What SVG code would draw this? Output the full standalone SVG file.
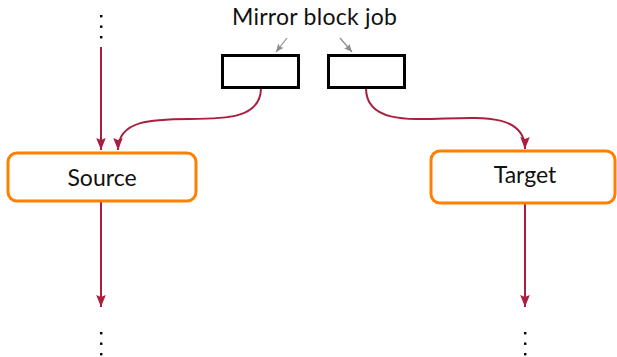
<svg xmlns="http://www.w3.org/2000/svg" width="617" height="357" viewBox="0 0 617 357">
  <style>
    .label { font-family: Lato, "DejaVu Sans", sans-serif; font-size: 23px; fill: #111; text-anchor: middle; }
    .node { fill: #fff; stroke: #ff8000; stroke-width: 3; }
    .job { fill: #fff; stroke: #000; stroke-width: 3; }
    .flow { fill: none; stroke: #a8203e; stroke-width: 2; }
    .hint { fill: none; stroke: #8c8c8c; stroke-width: 1.2; }
    .dot { fill: #000; }
  </style>
  <defs>
    <marker id="tip" markerUnits="userSpaceOnUse" markerWidth="14" markerHeight="12" viewBox="-13 -6 14 12" refX="0" refY="0" orient="auto">
      <path d="M-12,-4.8 L0,0 L-12,4.8 L-10,0 Z" fill="#a8203e"/>
    </marker>
    <marker id="tipGray" markerUnits="userSpaceOnUse" markerWidth="10" markerHeight="8" viewBox="-9 -4 10 8" refX="0" refY="0" orient="auto">
      <path d="M-8,-3.5 L0,0 L-8,3.5 L-6.5,0 Z" fill="#8c8c8c"/>
    </marker>
  </defs>

  <!-- continuation dots -->
  <g id="dots-top-left">
    <rect class="dot" x="100" y="15" width="2.4" height="2.4"/>
    <rect class="dot" x="100" y="25.5" width="2.4" height="2.4"/>
    <rect class="dot" x="100" y="36" width="2.4" height="2.4"/>
  </g>
  <g id="dots-bottom-left">
    <rect class="dot" x="100" y="332" width="2.4" height="2.4"/>
    <rect class="dot" x="100" y="342.5" width="2.4" height="2.4"/>
    <rect class="dot" x="100" y="353" width="2.4" height="2.4"/>
  </g>
  <g id="dots-bottom-right">
    <rect class="dot" x="524" y="332" width="2.4" height="2.4"/>
    <rect class="dot" x="524" y="342.5" width="2.4" height="2.4"/>
    <rect class="dot" x="524" y="353" width="2.4" height="2.4"/>
  </g>

  <!-- connectors -->
  <g id="connectors">
    <path class="flow" d="M101,47 L101,150" marker-end="url(#tip)"/>
    <path class="flow" d="M101,202 L101,307" marker-end="url(#tip)"/>
    <path class="flow" d="M525,203 L525,307" marker-end="url(#tip)"/>
    <path class="flow" d="M261,88 C261,149 118,89 118,150" marker-end="url(#tip)"/>
    <path class="flow" d="M366,88 C366,155 525,82 525,149" marker-end="url(#tip)"/>
    <path class="hint" d="M287,38 L276,52" marker-end="url(#tipGray)"/>
    <path class="hint" d="M340,38 L352,52" marker-end="url(#tipGray)"/>
  </g>

  <g id="mirror-label">
    <text class="label" x="314.5" y="25" textLength="165" lengthAdjust="spacing">Mirror block job</text>
  </g>

  <g id="job-left">
    <rect class="job" x="222.5" y="55.5" width="76" height="32"/>
  </g>
  <g id="job-right">
    <rect class="job" x="328.5" y="55.5" width="76" height="32"/>
  </g>

  <g id="source">
    <rect class="node" x="8" y="153" width="188" height="48" rx="9"/>
    <text class="label" x="102" y="186">Source</text>
  </g>

  <g id="target">
    <rect class="node" x="431" y="151" width="184" height="52" rx="9"/>
    <text class="label" x="525" y="183">Target</text>
  </g>
</svg>
